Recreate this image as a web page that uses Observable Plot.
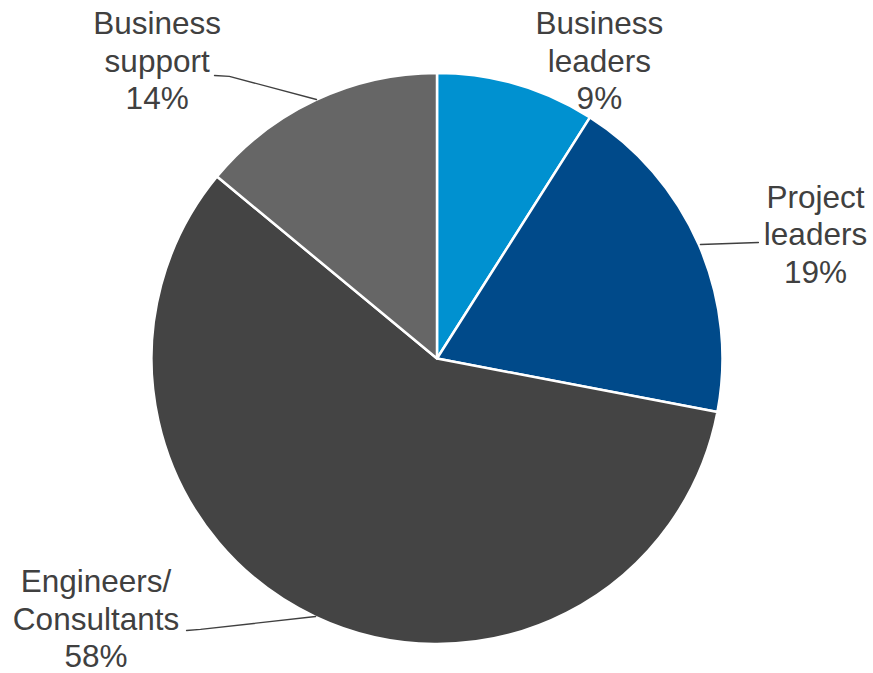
<!DOCTYPE html>
<html>
<head>
<meta charset="utf-8">
<script src="https://cdn.jsdelivr.net/npm/d3@7"></script>
<script src="https://cdn.jsdelivr.net/npm/@observablehq/plot@0.6"></script>
<style>
  html, body { margin: 0; padding: 0; background: #fff; }
  #chart { width: 873px; height: 673px; }
</style>
</head>
<body>
<div id="chart"></div>
<script>
// ---- Data ----
const categories = ["Business leaders", "Project leaders", "Engineers/Consultants", "Business support"];
const shares = [9, 19, 58, 14];
const labelNames = ["Business\nleaders", "Project\nleaders", "Engineers/\nConsultants", "Business\nsupport"];
const colors = ["#0091D0", "#004A8A", "#444444", "#666666"];

// ---- Layout (label anchors and leader lines in unit-circle coordinates) ----
const labelPos = {
  "Business leaders": [0.567, 1.048],
  "Project leaders": [1.324, 0.440],
  "Engineers/Consultants": [-1.196, -0.907],
  "Business support": [-0.982, 1.048]
};
const leaderPts = [
  {cat: "Business support", x: -0.781, y: 0.993},
  {cat: "Business support", x: -0.729, y: 0.990},
  {cat: "Business support", x: -0.424, y: 0.909},
  {cat: "Project leaders", x: 0.921, y: 0.401},
  {cat: "Project leaders", x: 1.124, y: 0.408},
  {cat: "Engineers/Consultants", x: -0.879, y: -0.951},
  {cat: "Engineers/Consultants", x: -0.830, y: -0.947},
  {cat: "Engineers/Consultants", x: -0.427, y: -0.902}
];

const slices = categories.map((c, i) => ({category: c, value: shares[i]}));
const labels = categories.map((c, i) => ({
  category: c,
  text: labelNames[i] + "\n" + shares[i] + "%",
  x: labelPos[c][0],
  y: labelPos[c][1]
}));

const pie = d3.pie().sort(null).value(d => d.value).startAngle(0).endAngle(2 * Math.PI);
const arcsData = pie(slices);

function pieMark(index, scales, values, dimensions, context) {
  const cx = scales.x(0), cy = scales.y(0);
  const r = scales.x(1) - scales.x(0);
  const color = scales.color || (c => colors[categories.indexOf(c)]);
  const arc = d3.arc().innerRadius(0).outerRadius(r);
  const g = d3.create("svg:g").attr("transform", `translate(${cx},${cy})`);
  g.selectAll("path")
    .data(arcsData)
    .join("path")
    .attr("d", arc)
    .attr("fill", d => color(d.data.category))
    .attr("stroke", "#fff")
    .attr("stroke-width", 2.5)
    .attr("stroke-linejoin", "round");
  return g.node();
}

const W = 873, H = 673;
const cx = 437, cy = 358.5, R = 285.5;

const chart = Plot.plot({
  width: W,
  height: H,
  marginLeft: cx - R,
  marginRight: W - (cx + R),
  marginTop: cy - R,
  marginBottom: H - (cy + R),
  style: {background: "#fff", fontFamily: "'Liberation Sans', Arial, sans-serif"},
  x: {domain: [-1, 1], axis: null},
  y: {domain: [-1, 1], axis: null},
  color: {domain: categories, range: colors},
  marks: [
    pieMark,
    Plot.line(leaderPts, {x: "x", y: "y", z: "cat", stroke: "#404040", strokeWidth: 1.4}),
    Plot.text(labels, {
      x: "x", y: "y", text: "text",
      fontSize: 31.5,
      lineHeight: 1.19,
      fill: "#404040",
      textAnchor: "middle",
      fontFamily: "'Liberation Sans', Arial, sans-serif"
    })
  ]
});
document.getElementById("chart").appendChild(chart);
</script>
</body>
</html>
